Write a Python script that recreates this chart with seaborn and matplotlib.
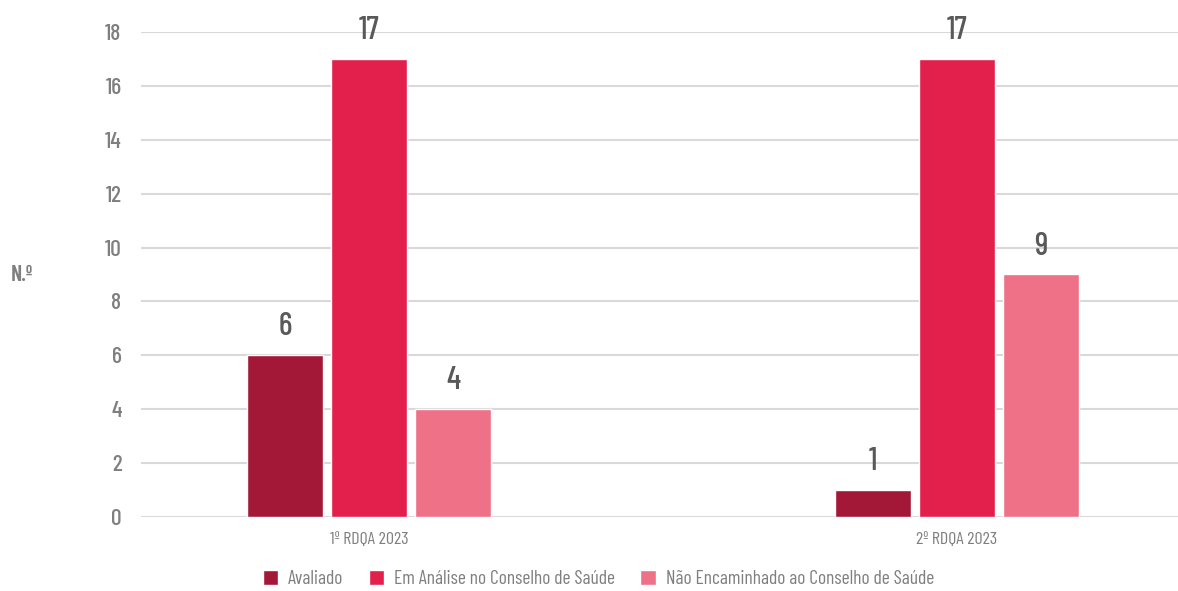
import pandas as pd
import matplotlib
matplotlib.use("Agg")
import matplotlib.pyplot as plt
import seaborn as sns
from matplotlib.patches import Patch

sns.set_theme(style="white")
plt.rcParams['font.family'] = ['Barlow Condensed', 'DejaVu Sans']

# Data
periods = ["1º RDQA 2023", "2º RDQA 2023"]
status = ["Avaliado", "Em Análise no Conselho de Saúde", "Não Encaminhado ao Conselho de Saúde"]
avaliado = [6, 1]
em_analise = [17, 17]
nao_encaminhado = [4, 9]
colors = ["#A31837", "#E31F4B", "#EE7187"]

df = pd.DataFrame({
    "periodo": periods * 3,
    "status": [status[0]] * 2 + [status[1]] * 2 + [status[2]] * 2,
    "valor": avaliado + em_analise + nao_encaminhado,
})

fig = plt.figure(figsize=(11.78, 5.91), dpi=100)
ax = fig.add_axes([0.1197, 0.1252, 0.8803, 0.8207])

sns.barplot(data=df, x="periodo", y="valor", hue="status", hue_order=status,
            palette=colors, width=0.43, gap=0.095, ax=ax, legend=False,
            saturation=1, errorbar=None)

ax.set_ylim(0, 18)
ax.set_yticks(range(0, 19, 2))
ax.set_xlim(-0.388, 1.376)
ax.yaxis.grid(True, color="#d9d9d9", linewidth=1.5)
ax.set_axisbelow(True)
for s in ax.spines.values():
    s.set_visible(False)
ax.tick_params(axis="x", length=0, colors="#7f7f7f", labelsize=13, pad=11)
ax.tick_params(axis="y", length=0, colors="#7f7f7f", labelsize=17, pad=14)
for lab in ax.get_yticklabels():
    lab.set_fontweight("medium")
ax.set_xlabel("")
ax.set_ylabel("")

# Value labels
for cont in ax.containers:
    ax.bar_label(cont, padding=10, fontsize=23, color="#595959", fontweight="medium")

fig.text(0.009, 0.535, "N.º", fontsize=16, color="#7f7f7f", fontweight="semibold", va="center")

handles = [Patch(facecolor=c, label=s) for c, s in zip(colors, status)]
fig.legend(handles=handles, loc="lower center", bbox_to_anchor=(0.508, 0.0), ncol=3,
           frameon=False, fontsize=14, labelcolor="#7f7f7f", handlelength=0.8,
           handleheight=0.8, columnspacing=1.3, handletextpad=0.5,
           borderaxespad=0.0, borderpad=0.15)

plt.savefig("out.png", dpi=100)
plt.close()
